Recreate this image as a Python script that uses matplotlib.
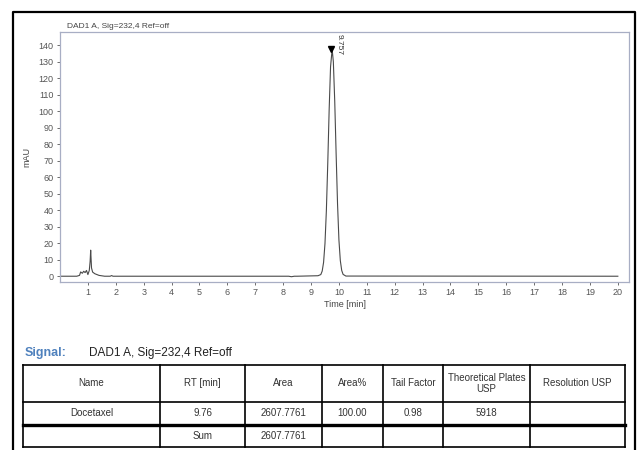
import matplotlib
matplotlib.use("Agg")
import matplotlib.pyplot as plt

plt.rcParams['font.family'] = ['Liberation Sans', 'DejaVu Sans']

# === Chromatogram trace ===
time_min = [0.0, 0.6, 0.7, 0.74, 0.8, 0.85, 0.9, 0.95, 1.0, 1.05, 1.08, 1.1, 1.13, 1.17, 1.25, 1.4, 1.6,
            1.8, 1.85, 1.9, 8.2, 8.3, 8.4, 8.5, 9.25, 9.35, 9.4, 9.45, 9.5, 9.55, 9.6, 9.65, 9.7,
            9.757, 9.8, 9.85, 9.9, 9.95, 10.0, 10.05, 10.1, 10.15, 10.25, 20.0]
signal_mau = [0.0, 0.0, 0.5, 2.6, 1.8, 3.0, 2.2, 3.5, 1.0, 3.5, 9.0, 15.8, 5.0, 2.5, 1.5, 0.5, 0.0,
              0.0, 0.4, 0.0, 0.0, -0.3, 0.0, 0.0, 0.3, 1.0, 3.1, 8.4, 19.8, 39.8, 68.5, 101.0, 127.0,
              137.5, 130.0, 106.0, 74.0, 44.0, 22.0, 9.5, 3.5, 1.1, 0.1, 0.0]

peak_rt = 9.757
peak_height = 137.5

# === Result table ===
table_headers = ["Name", "RT [min]", "Area", "Area%", "Tail Factor", "Theoretical Plates\nUSP", "Resolution USP"]
table_rows = [
    ["Docetaxel", "9.76", "2607.7761", "100.00", "0.98", "5918", ""],
    ["", "Sum", "2607.7761", "", "", "", ""],
]
signal_name = "DAD1 A, Sig=232,4 Ref=off"

fig = plt.figure(figsize=(6.38, 4.5), dpi=100)

# chart axes
ax = fig.add_axes([60 / 638, 1 - 282 / 450, (629 - 60) / 638, (282 - 32) / 450])
ax.plot(time_min, signal_mau, color="#4a4a4a", lw=0.8)
ax.plot([peak_rt - 0.03], [peak_height], marker="v", color="black", ms=5)
ax.text(peak_rt + 0.12, 147, f"{peak_rt:.3f}", rotation=-90, ha="left", va="top", fontsize=6, color="#333333")

ax.set_xlim(0, 20.4)
ax.set_ylim(-3.5, 148)
ax.set_xticks(range(1, 21))
ax.set_yticks(range(0, 141, 10))
ax.tick_params(labelsize=6.5, length=2.5, width=0.6, colors="#555555", pad=2)
for s in ax.spines.values():
    s.set_color("#a8aec4")
    s.set_linewidth(0.9)
ax.set_xlabel("Time [min]", fontsize=6.5, color="#444444", labelpad=2)
ax.set_ylabel("mAU", fontsize=6.5, color="#444444", labelpad=5)
ax.set_title(signal_name, fontsize=6, color="#444444", loc="left", x=0.012, pad=3)

# overlay in pixel coords for frame + table
ov = fig.add_axes([0, 0, 1, 1], zorder=-1)
ov.set_xlim(0, 638)
ov.set_ylim(450, 0)
ov.axis("off")

# outer frame
ov.plot([13, 13, 635, 635], [455, 12, 12, 455], color="black", lw=1.6)

ov.text(25, 353, "Signal:", fontsize=9, color="#4f81bd", fontweight="bold", va="center", ha="left")
ov.text(89, 353, signal_name, fontsize=8.5, color="#222222", va="center", ha="left")

col_edges = [23, 160, 245, 322, 383, 443, 530, 625]
row_edges = [365, 402, 425, 447]

for x in col_edges:
    ov.plot([x, x], [row_edges[0], row_edges[-1]], color="black", lw=1.2)
for i, y in enumerate(row_edges):
    ov.plot([col_edges[0], col_edges[-1]], [y, y], color="black", lw=2.4 if i == 2 else 1.2)

all_rows = [table_headers] + table_rows
for r, row in enumerate(all_rows):
    yc = (row_edges[r] + row_edges[r + 1]) / 2
    for c, txt in enumerate(row):
        xc = (col_edges[c] + col_edges[c + 1]) / 2
        ov.text(xc, yc, txt, fontsize=7, color="#333333", ha="center", va="center", linespacing=1.15)

fig.savefig("out.png", dpi=100)
